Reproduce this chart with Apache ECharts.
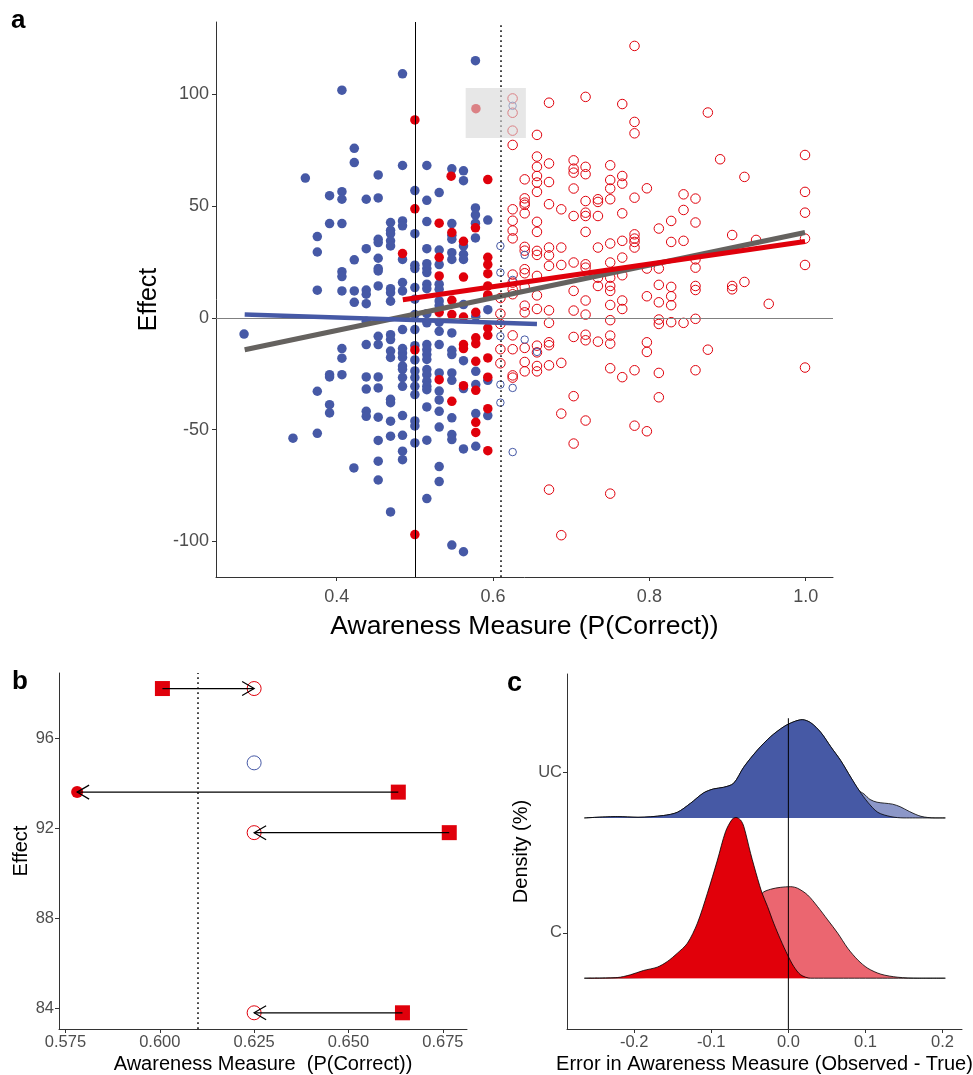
<!DOCTYPE html>
<html>
<head>
<meta charset="utf-8">
<script src="https://cdn.jsdelivr.net/npm/echarts@6/dist/echarts.min.js"></script>
<style>
  html, body { margin: 0; padding: 0; background: #fff; }
  #chart { width: 973px; height: 1075px; }
</style>
</head>
<body>
<div id="chart"></div>
<script>
// ---- panel a: awareness vs effect ----
var blueFilled = [
  [0.5775,115.1],[0.4842,109.2],[0.4067,101.9],[0.4225,75.9],[0.4225,69.5],[0.4842,68.2],[0.5153,68.2],[0.5473,66.7],
  [0.5622,65.8],[0.5622,61.4],[0.3599,62.6],[0.4531,64.0],[0.3909,54.7],[0.4067,56.5],[0.4067,53.1],[0.4378,53.1],
  [0.4531,53.7],[0.5,57.0],[0.5153,52.6],[0.5311,56.1],[0.5775,49.2],[0.5775,46.1],[0.5933,43.8],[0.5775,42.4],
  [0.5775,35.8],[0.3909,42.2],[0.4067,42.2],[0.4689,42.7],[0.4842,43.4],[0.4842,41.2],[0.5153,43.1],[0.5473,42.2],
  [0.5473,37.0],[0.5473,35.2],[0.5622,32.2],[0.4689,39.2],[0.4689,37.7],[0.5,37.7],[0.3752,36.4],[0.4531,35.2],
  [0.4531,33.7],[0.4689,34.5],[0.4689,32.2],[0.3752,29.5],[0.4378,31.0],[0.5153,31.0],[0.5311,30.4],[0.4842,26.2],
  [0.4225,26.0],[0.4531,26.7],[0.5311,23.9],[0.5473,29.2],[0.5473,26.2],[0.5622,28.5],[0.5622,26.2],[0.5,23.6],
  [0.5,22.1],[0.5153,24.3],[0.5153,22.1],[0.5153,20.3],[0.4531,22.1],[0.4531,21.0],[0.4067,20.7],[0.4067,18.5],
  [0.4842,15.8],[0.3752,12.4],[0.4067,12.1],[0.4225,12.1],[0.4378,12.5],[0.4378,10.6],[0.4531,14.3],[0.4689,13.1],
  [0.4689,11.3],[0.4842,12.1],[0.5,13.6],[0.5153,15.1],[0.5153,13.1],[0.5311,15.1],[0.5311,12.8],
  [0.4225,7.0],[0.4378,6.4],[0.4689,7.5],[0.5,8.4],[0.5311,7.6],[0.5311,5.5],[0.5622,6.0],[0.5933,3.7],
  [0.5779,0.7],[0.5,1.5],[0.5153,1.9],[0.4378,-1.5],[0.5153,-2.2],[0.5311,-1.9],[0.5311,-6.0],[0.5473,-6.7],
  [0.4842,-5.2],[0.5,-5.2],[0.2815,-7.2],[0.4531,-8.2],[0.4531,-11.9],[0.4689,-7.5],[0.4689,-9.7],[0.4378,-11.9],
  [0.4067,-13.7],[0.4067,-18.0],[0.4689,-14.8],[0.4689,-17.7],[0.4842,-13.7],[0.4842,-15.7],[0.4842,-17.7],[0.4842,-21.5],
  [0.4842,-23.0],[0.5,-12.4],[0.5,-18.8],[0.5,-23.7],[0.5,-26.7],[0.5,-30.6],[0.5,-34.3],[0.5153,-11.9],
  [0.5153,-14.2],[0.5153,-16.4],[0.5153,-18.6],[0.5153,-23.1],[0.5153,-25.4],[0.5153,-28.3],[0.5153,-30.6],[0.5153,-32.1],
  [0.5311,-11.9],[0.5311,-24.6],[0.5311,-32.7],[0.5311,-36.7],[0.5311,-41.8],[0.5473,-14.5],[0.5473,-16.4],[0.5473,-24.6],
  [0.5473,-27.9],[0.5473,-44.7],[0.5622,-19.1],[0.5622,-31.6],[0.5779,-23.9],[0.5779,-29.8],[0.5933,-27.9],[0.5933,-43.7],
  [0.5779,-42.8],[0.5779,-57.4],[0.5622,-58.6],[0.5473,-52.2],[0.5473,-54.4],[0.5311,-48.8],[0.5153,-39.8],[0.5153,-54.7],
  [0.5,-46.1],[0.5,-48.3],[0.5,-55.9],[0.4842,-43.7],[0.4842,-52.5],[0.4842,-59.6],[0.4842,-63.4],[0.4689,-36.4],
  [0.4689,-37.9],[0.4689,-46.2],[0.4689,-52.9],[0.4531,-44.4],[0.4531,-54.8],[0.4531,-64.1],[0.4531,-72.5],[0.4378,-26.4],
  [0.4378,-31.8],[0.4378,-41.8],[0.4378,-44.0],[0.4531,-26.4],[0.4531,-31.3],[0.4067,-25.4],[0.3909,-25.4],[0.3909,-26.4],
  [0.3752,-32.8],[0.3909,-38.8],[0.3909,-42.5],[0.3752,-51.6],[0.3441,-53.8],[0.4220,-67.1],[0.4689,-86.8],[0.5153,-80.8],
  [0.5311,-66.5],[0.5311,-73.2],[0.5473,-101.6],[0.5622,-104.6],[0.4842,-26.7],[0.4842,-30.6]
];
var redFilled = [
  [0.5,88.6],[0.5464,63.4],[0.5933,61.9],[0.5,48.8],[0.5775,40.3],[0.5311,42.4],[0.5473,38.2],[0.5622,34.3],
  [0.4842,28.8],[0.5311,27.1],[0.5933,27.1],[0.5933,23.9],[0.5933,19.8],[0.5622,18.3],[0.5311,18.8],[0.5933,14.3],
  [0.5933,10.3],[0.5473,7.9],[0.5933,9.7],[0.5311,2.5],[0.5473,1.5],[0.5622,0.4],[0.5779,2.5],[0.5933,-4.5],
  [0.5933,-7.8],[0.5,-14.3],[0.5311,-27.6],[0.5473,-37.3],[0.5622,-11.9],[0.5622,-13.7],[0.5622,-30.3],[0.5779,-8.9],
  [0.5779,-11.5],[0.5779,-19.4],[0.5779,-32.4],[0.5933,-17.9],[0.5933,-26.5],[0.5933,-40.6],[0.5779,-46.7],[0.5779,-51.2],
  [0.5933,-59.4],[0.5,-96.9],[0.5781,93.6]
];
var redOpen = [
  [0.7810,121.7],[0.6716,96.3],[0.7184,98.9],[0.7653,95.7],[0.7810,87.7],[0.7810,82.6],[0.8748,91.9],[0.6562,81.9],
  [0.6562,72.2],[0.6562,67.6],[0.6562,63.5],[0.6562,60.6],[0.6562,56.4],[0.6562,43.0],[0.6562,38.5],[0.6562,30.0],
  [0.6562,28.2],[0.6562,18.8],[0.6562,10.1],[0.6716,69.1],[0.6716,60.8],[0.6716,50.9],[0.6716,31.5],[0.6716,28.0],
  [0.6716,23.3],[0.6405,62.0],[0.6405,53.5],[0.6405,51.6],[0.6405,50.6],[0.6405,46.8],[0.6405,31.8],[0.6405,30.1],
  [0.6405,21.8],[0.6405,20.0],[0.6405,13.9],[0.6251,77.4],[0.6251,48.6],[0.6251,43.5],[0.6251,39.1],[0.6251,35.6],
  [0.6251,19.4],[0.6251,15.8],[0.6251,12.8],[0.6251,10.6],[0.6873,48.6],[0.6873,31.5],[0.6873,23.7],[0.7031,70.5],
  [0.7031,66.8],[0.7031,65.0],[0.7031,57.9],[0.7031,45.6],[0.7031,24.8],[0.7031,12.1],[0.7184,67.6],[0.7184,64.3],
  [0.7184,52.3],[0.7184,47.1],[0.7184,45.6],[0.7184,38.5],[0.7184,24.0],[0.7184,22.5],[0.7342,53.1],[0.7342,51.9],
  [0.7342,45.6],[0.7342,31.5],[0.7342,18.0],[0.7342,14.3],[0.7499,68.3],[0.7499,61.7],[0.7499,57.9],[0.7499,53.1],
  [0.7499,33.3],[0.7499,24.8],[0.7499,18.0],[0.7499,14.3],[0.7499,12.1],[0.7653,63.5],[0.7653,60.1],[0.7653,46.8],
  [0.7653,34.5],[0.7653,27.0],[0.7653,19.1],[0.7810,53.8],[0.7810,37.4],[0.7810,35.5],[0.7810,34.0],[0.7810,31.5],
  [0.7968,58.0],[0.7968,22.1],[0.8121,40.0],[0.8121,22.1],[0.8121,14.8],[0.8279,43.4],[0.8279,34.0],[0.8279,13.9],
  [0.8437,55.3],[0.8437,48.3],[0.8437,34.5],[0.8590,53.4],[0.8590,42.7],[0.8590,26.2],[0.8590,22.5],[0.8590,14.3],
  [0.8590,12.5],[0.8905,71.0],[0.9059,37.1],[0.9059,14.3],[0.9059,12.8],[0.9216,63.1],[0.9216,16.1],[0.9365,34.9],
  [0.9991,72.9],[0.9991,56.4],[0.9991,47.1],[0.9991,35.5],[0.9991,23.7],
  [0.6094,8.9],[0.6094,1.9],[0.6094,-2.7],[0.6251,-7.8],[0.6094,-14.0],[0.6251,-14.0],[0.6094,-20.3],[0.6251,-25.7],
  [0.6251,-26.7],[0.6405,5.5],[0.6405,2.5],[0.6405,-13.4],[0.6405,-19.7],[0.6405,-23.9],[0.6562,4.0],[0.6562,-12.4],
  [0.6562,-15.4],[0.6562,-21.5],[0.6562,-23.9],[0.6716,3.4],[0.6716,-2.2],[0.6716,-10.9],[0.6716,-12.2],[0.6716,-21.2],
  [0.6716,-76.8],[0.6873,-20.1],[0.6873,-42.8],[0.6873,-97.2],[0.7031,3.3],[0.7031,-8.5],[0.7031,-35.0],[0.7031,-56.2],
  [0.7184,7.8],[0.7184,1.5],[0.7184,-7.5],[0.7184,-10.0],[0.7184,-45.9],[0.7342,-10.6],[0.7499,5.8],[0.7499,-1.0],
  [0.7499,-7.9],[0.7499,-11.5],[0.7499,-22.5],[0.7499,-78.6],[0.7653,7.8],[0.7653,4.0],[0.7653,-26.5],[0.7810,-23.4],
  [0.7810,-48.2],[0.7968,9.7],[0.7968,-10.9],[0.7968,-15.2],[0.7968,-50.7],[0.8121,7.0],[0.8121,-0.7],[0.8121,-2.7],
  [0.8121,-24.6],[0.8121,-35.5],[0.8279,9.7],[0.8279,5.7],[0.8279,-1.9],[0.8437,-2.2],[0.8590,-0.4],[0.8590,-23.4],
  [0.8748,-14.2],[0.9527,6.3],[0.9991,-22.2],
  [0.625,98.2],[0.625,91.8],[0.625,83.8]
];
var blueOpen = [
  [0.6094,32.2],[0.6094,20.3],[0.6405,28.2],[0.6251,17.0],[0.6094,-8.2],[0.6094,-29.8],[0.6251,-31.3],[0.6094,-37.9],
  [0.6251,-60.0],[0.6405,-9.7],[0.6562,-15.2],[0.625,94.9]
];
var fitAll = [[0.2823, -14.2], [0.9991, 38.2]];
var fitUnaware = [[0.2823, 1.5], [0.6562, -2.7]];
var fitAware = [[0.4846, 8.1], [0.9991, 34.2]];
var chanceLevel = 0.5;
var threshold = 0.609;
var zoomBox = [0.565, 80.5, 0.642, 102.9];

// ---- panel b: reclassified points ----
var bEffect = [98.2, 93.6, 91.8, 83.8];
var bBefore = [0.6007, 0.6632, 0.6767, 0.6643];
var bAfter = [0.625, 0.5781, 0.625, 0.625];
var bAfterAware = [true, false, true, true];
var bUnchanged = [[0.625, 94.9]];

// ---- panel c: error densities ----
var ridgeBase = [0.717, 1.717];
var ucX = [-0.2646,-0.222,-0.195,-0.162,-0.144,-0.127,-0.110,-0.097,-0.084,-0.071,-0.058,-0.040,-0.023,-0.006,0.007,0.018,0.029,0.042,0.055,0.068,0.081,0.092,0.103,0.116,0.133,0.150,0.2036];
var ucDark = [0,0.008,0.004,0.015,0.035,0.091,0.156,0.181,0.191,0.216,0.316,0.424,0.507,0.569,0.600,0.613,0.594,0.534,0.444,0.357,0.253,0.170,0.098,0.035,0.008,0,0];
var ucLightX = [-0.2646,-0.222,-0.195,-0.162,-0.144,-0.127,-0.110,-0.097,-0.084,-0.071,-0.058,-0.040,-0.023,-0.006,0.007,0.018,0.029,0.042,0.055,0.068,0.081,0.092,0.098,0.106,0.115,0.125,0.135,0.145,0.157,0.172,0.190,0.2036];
var ucLight = [0,0.008,0.004,0.015,0.035,0.091,0.156,0.181,0.191,0.216,0.316,0.424,0.507,0.569,0.600,0.613,0.594,0.534,0.444,0.357,0.253,0.170,0.150,0.115,0.098,0.092,0.086,0.070,0.040,0.010,0,0];
var cX = [-0.2646,-0.222,-0.205,-0.188,-0.170,-0.157,-0.144,-0.131,-0.118,-0.105,-0.092,-0.0815,-0.073,-0.068,-0.062,-0.0577,-0.049,-0.040,-0.034,-0.027,-0.019,-0.010,-0.001,0.007,0.016,0.029,0.2036];
var cRed = [0,0.004,0.021,0.048,0.069,0.104,0.156,0.218,0.343,0.530,0.737,0.914,0.991,1.003,0.987,0.945,0.779,0.623,0.530,0.447,0.343,0.239,0.145,0.073,0.021,0,0];
var cPinkX = [-0.2646,-0.15,-0.12,-0.10,-0.08,-0.06,-0.045,-0.034,-0.023,-0.010,0.003,0.012,0.025,0.038,0.051,0.064,0.077,0.090,0.103,0.120,0.142,0.168,0.2036];
var cPink = [0,0.01,0.04,0.09,0.18,0.30,0.42,0.53,0.555,0.567,0.571,0.561,0.519,0.446,0.364,0.281,0.187,0.114,0.062,0.025,0.006,0,0];
var zeroLineC = [[0, 0.40], [0, 2.339]];

var blue = "#4659a6";
var red = "#e0000b";
var font = '"Liberation Sans", Arial, sans-serif';
var tickColor = "#4d4d4d";
var axisColor = "#333";

function makeAxis(grid, min, max, ticks, fmt, size, name, nameSize, nameGap, margin) {
  return {
    type: "value",
    gridIndex: grid,
    min: min,
    max: max,
    axisLine: { show: true, onZero: false, lineStyle: { color: axisColor, width: 1 } },
    axisTick: { show: true, length: 4, customValues: ticks, lineStyle: { color: axisColor } },
    axisLabel: {
      customValues: ticks, formatter: fmt, fontSize: size, color: tickColor,
      fontFamily: font, margin: margin
    },
    splitLine: { show: false },
    name: name,
    nameLocation: "middle",
    nameGap: nameGap,
    nameTextStyle: { fontSize: nameSize, color: "#000", fontFamily: font }
  };
}

function openCircle(color) {
  return { color: "rgba(0,0,0,0)", borderColor: color, borderWidth: 1, opacity: 1 };
}

function ridge(xs, hs, base, fill, z) {
  return {
    type: "line",
    xAxisIndex: 2,
    yAxisIndex: 2,
    data: xs.map(function (x, i) { return [x, base + hs[i]]; }),
    showSymbol: false,
    smooth: 0.3,
    lineStyle: { color: "#000", width: 0.8 },
    areaStyle: { color: fill, opacity: 1, origin: base },
    silent: true,
    z: z
  };
}

function drawArrow(params, api) {
  var from = api.coord([api.value(0), api.value(1)]);
  var to = api.coord([api.value(2), api.value(1)]);
  var dir = to[0] > from[0] ? 1 : -1;
  return {
    type: "group",
    children: [
      { type: "line", shape: { x1: from[0], y1: from[1], x2: to[0], y2: to[1] },
        style: { stroke: "#000", lineWidth: 1.2 } },
      { type: "polyline",
        shape: { points: [[to[0] - dir * 12, to[1] - 7], [to[0], to[1]], [to[0] - dir * 12, to[1] + 7]] },
        style: { stroke: "#000", fill: null, lineWidth: 1.2 } }
    ]
  };
}

function drawBox(params, api) {
  var p0 = api.coord([api.value(0), api.value(3)]);
  var p1 = api.coord([api.value(2), api.value(1)]);
  return {
    type: "rect",
    shape: { x: p0[0], y: p0[1], width: p1[0] - p0[0], height: p1[1] - p0[1] },
    style: { fill: "rgba(215,215,215,0.6)" }
  };
}

var chartDom = document.getElementById("chart");
var chart = echarts.init(chartDom);

var series = [];
// panel a points
series.push({ type: "scatter", xAxisIndex: 0, yAxisIndex: 0, data: blueFilled, symbolSize: 9.5,
  itemStyle: { color: blue, opacity: 1 }, silent: true, z: 2 });
series.push({ type: "scatter", xAxisIndex: 0, yAxisIndex: 0, data: redFilled, symbolSize: 9.5,
  itemStyle: { color: red, opacity: 1 }, silent: true, z: 2 });
series.push({ type: "scatter", xAxisIndex: 0, yAxisIndex: 0, data: redOpen, symbolSize: 9.5,
  itemStyle: openCircle(red), silent: true, z: 2 });
series.push({ type: "scatter", xAxisIndex: 0, yAxisIndex: 0, data: blueOpen, symbolSize: 7.5,
  itemStyle: openCircle(blue), silent: true, z: 2 });
// panel a fits and reference lines
series.push({
  type: "line", xAxisIndex: 0, yAxisIndex: 0, data: fitAll, showSymbol: false, silent: true,
  lineStyle: { color: "#65625f", width: 5 }, z: 4,
  markLine: {
    symbol: ["none", "none"], silent: true, label: { show: false },
    data: [
      { xAxis: chanceLevel, lineStyle: { color: "#000", width: 1, type: "solid" } },
      { xAxis: threshold, lineStyle: { color: "#333", width: 1.8, type: [1.8, 3.2] } },
      { yAxis: 0, lineStyle: { color: "#808080", width: 1.2, type: "solid" } }
    ]
  }
});
series.push({ type: "line", xAxisIndex: 0, yAxisIndex: 0, data: fitUnaware, showSymbol: false, silent: true,
  lineStyle: { color: blue, width: 4.5 }, z: 5 });
series.push({ type: "line", xAxisIndex: 0, yAxisIndex: 0, data: fitAware, showSymbol: false, silent: true,
  lineStyle: { color: red, width: 5 }, z: 6 });
series.push({ type: "custom", xAxisIndex: 0, yAxisIndex: 0, data: [zoomBox], renderItem: drawBox,
  encode: { x: [0, 2], y: [1, 3] }, silent: true, z: 10 });

// panel b
series.push({
  type: "scatter", xAxisIndex: 1, yAxisIndex: 1, symbol: "rect", symbolSize: 15,
  data: bBefore.map(function (x, i) { return [x, bEffect[i]]; }),
  itemStyle: { color: red, opacity: 1 }, silent: true, z: 3,
  markLine: {
    symbol: ["none", "none"], silent: true, label: { show: false },
    data: [{ xAxis: threshold, lineStyle: { color: "#333", width: 1.8, type: [1.8, 3.2] } }]
  }
});
series.push({
  type: "scatter", xAxisIndex: 1, yAxisIndex: 1, symbolSize: 14,
  data: bAfter.map(function (x, i) { return [x, bEffect[i]]; }).filter(function (d, i) { return bAfterAware[i]; }),
  itemStyle: openCircle(red), silent: true, z: 3
});
series.push({
  type: "scatter", xAxisIndex: 1, yAxisIndex: 1, symbolSize: 12,
  data: bAfter.map(function (x, i) { return [x, bEffect[i]]; }).filter(function (d, i) { return !bAfterAware[i]; }),
  itemStyle: { color: red, opacity: 1 }, silent: true, z: 3
});
series.push({ type: "scatter", xAxisIndex: 1, yAxisIndex: 1, symbolSize: 14, data: bUnchanged,
  itemStyle: openCircle(blue), silent: true, z: 3 });
series.push({
  type: "custom", xAxisIndex: 1, yAxisIndex: 1, renderItem: drawArrow,
  data: bBefore.map(function (x, i) { return [x, bEffect[i], bAfter[i]]; }),
  encode: { x: [0, 2], y: 1 }, silent: true, z: 6
});

// panel c
series.push(ridge(ucLightX, ucLight, ridgeBase[1], "#8c97c8", 2));
series.push(ridge(ucX, ucDark, ridgeBase[1], "#4659a5", 3));
series.push(ridge(cPinkX, cPink, ridgeBase[0], "#eb6670", 4));
series.push(ridge(cX, cRed, ridgeBase[0], "#e1000a", 5));
series.push({ type: "line", xAxisIndex: 2, yAxisIndex: 2, data: zeroLineC, showSymbol: false, silent: true,
  lineStyle: { color: "#000", width: 1 }, z: 8 });

var option = {
  animation: false,
  backgroundColor: "#fff",
  textStyle: { fontFamily: font },
  grid: [
    { left: 216, top: 22, width: 617, height: 555, outerBoundsMode: "none" },
    { left: 59, top: 673, width: 408, height: 356, outerBoundsMode: "none" },
    { left: 567, top: 674, width: 395, height: 355, outerBoundsMode: "none" }
  ],
  xAxis: [
    makeAxis(0, 0.2456, 1.0349, [0.4, 0.6, 0.8, 1.0], function (v) { return v.toFixed(1); },
      18, "Awareness Measure (P(Correct))", 26.5, 36, 11),
    makeAxis(1, 0.5733, 0.6814, [0.575, 0.6, 0.625, 0.65, 0.675], function (v) { return v.toFixed(3); },
      16.5, "Awareness Measure  (P(Correct))", 20, 25, 5),
    makeAxis(2, -0.2871, 0.2252, [-0.2, -0.1, 0, 0.1, 0.2], function (v) { return v.toFixed(1); },
      16.5, "Error in Awareness Measure (Observed - True)", 20, 25, 5)
  ],
  yAxis: [
    makeAxis(0, -115.9, 132.4, [-100, -50, 0, 50, 100], function (v) { return String(v); },
      18, "Effect", 25, 54, 7),
    makeAxis(1, 83.08, 98.89, [84, 88, 92, 96], function (v) { return String(v); },
      16.5, "Effect", 20, 26, 5),
    makeAxis(2, 0.40, 2.615, [1, 2], function (v) { return v === 1 ? "C" : "UC"; },
      16.5, "Density (%)", 20, 36, 5)
  ],
  graphic: [
    { type: "text", left: 11, top: 8, style: { text: "a", font: "bold 26px " + font, fill: "#000" } },
    { type: "text", left: 12, top: 669, style: { text: "b", font: "bold 26px " + font, fill: "#000" } },
    { type: "text", left: 507, top: 670, style: { text: "c", font: "bold 27px " + font, fill: "#000" } }
  ],
  series: series
};

chart.setOption(option);
</script>
</body>
</html>
